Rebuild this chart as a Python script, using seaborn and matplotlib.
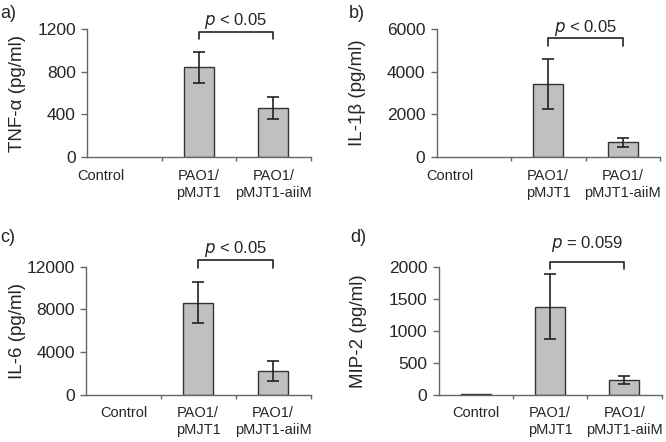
import matplotlib
matplotlib.use("Agg")
import matplotlib.pyplot as plt
import seaborn as sns
import pandas as pd
import numpy as np

sns.set_style("white")
plt.rcParams['font.family'] = ['Liberation Sans', 'DejaVu Sans']

# ---- data ----
groups = ["Control", "PAO1/\npMJT1", "PAO1/\npMJT1-aiiM"]
panel_letters = ["a)", "b)", "c)", "d)"]
ylabels = ["TNF-α (pg/ml)", "IL-1β (pg/ml)", "IL-6 (pg/ml)", "MIP-2 (pg/ml)"]
tnf_mean = [0, 840, 460]
tnf_err = [0, 145, 100]
il1b_mean = [0, 3420, 680]
il1b_err = [0, 1160, 220]
il6_mean = [0, 8600, 2200]
il6_err = [0, 1920, 940]
mip2_mean = [5, 1375, 235]
mip2_err = [0, 510, 60]
p_labels = ["$p$ < 0.05", "$p$ < 0.05", "$p$ < 0.05", "$p$ = 0.059"]
ymax = [1200, 6000, 12000, 2000]
ystep = [400, 2000, 4000, 500]

means = [tnf_mean, il1b_mean, il6_mean, mip2_mean]
errs = [tnf_err, il1b_err, il6_err, mip2_err]

# ---- layout (pixels) ----
W, H = 666, 442
fig = plt.figure(figsize=(W / 100, H / 100), dpi=100)
boxes = [(87, 310.5, 29, 157), (436.5, 660, 29, 157),
         (86, 310.5, 266.7, 394.7), (438.5, 661.5, 266.7, 394.7)]
ylab_x = [26, 366, 26, 367]
letter_pos = [(0, 13), (349, 13), (0, 237), (350, 238)]
# bracket levels (fraction of ymax): line, leg end, text baseline
brk = [(1175 / 1200, 1106 / 1200, 1237 / 1200),
       (5564 / 6000, 5203 / 6000, 5845 / 6000),
       (12600 / 12000, 11906 / 12000, 13256 / 12000),
       (2073 / 2000, 1959 / 2000, 2287 / 2000)]

spine_col = "#666666"
for i in range(4):
    l, r, t, b = boxes[i]
    ax = fig.add_axes([l / W, (H - b) / H, (r - l) / W, (b - t) / H])
    df = pd.DataFrame({"group": groups, "value": means[i]})
    sns.barplot(data=df, x="group", y="value", ax=ax, color="#c0c0c0",
                edgecolor="#333333", linewidth=1.0, width=0.4, saturation=1)
    for patch in ax.patches:
        if patch.get_height() == 0:
            patch.set_visible(False)
    m = np.asarray(means[i], dtype=float)
    e = np.asarray(errs[i], dtype=float)
    idx = np.where(e > 0)[0]
    ax.errorbar(idx, m[idx], yerr=e[idx], fmt="none",
                ecolor="#222222", elinewidth=1.2, capsize=4, capthick=1.2)
    ax.set_xlim(-0.5, 2.5)
    ax.set_ylim(0, ymax[i])
    ax.set_yticks(np.arange(0, ymax[i] + 1, ystep[i]))
    ax.set_yticklabels([str(int(v)) for v in np.arange(0, ymax[i] + 1, ystep[i])],
                       fontsize=12.5)
    ax.tick_params(axis="y", direction="out", length=4, width=1, color=spine_col,
                   pad=4, left=True)
    ax.set_xticks([0, 1, 2])
    ax.set_xticklabels(groups, fontsize=10.5, linespacing=1.25, va="top")
    ax.tick_params(axis="x", which="major", length=0, pad=9 if i < 2 else 8)
    ax.set_xticks([0.5, 1.5, 2.5], minor=True)
    ax.tick_params(axis="x", which="minor", direction="out", length=3,
                   width=1, color=spine_col, bottom=True)
    if i < 2:
        ax.get_xticklabels()[0].set_horizontalalignment("right")
    ax.set_xlabel("")
    ax.set_ylabel(ylabels[i], fontsize=13.5)
    ax.yaxis.set_label_coords((ylab_x[i] - l) / (r - l), 0.5)
    for s in ["top", "right"]:
        ax.spines[s].set_visible(False)
    for s in ["left", "bottom"]:
        ax.spines[s].set_color(spine_col)
        ax.spines[s].set_linewidth(1.0)
    yl, ye, yt = [v * ymax[i] for v in brk[i]]
    ax.plot([1, 1, 2, 2], [ye, yl, yl, ye], color="#222222", lw=1.2,
            clip_on=False)
    ax.text(1.5, yt, p_labels[i], ha="center", va="baseline", fontsize=12)
    fig.text(letter_pos[i][0] / W, 1 - letter_pos[i][1] / H, panel_letters[i],
             fontsize=13, ha="left", va="center")

fig.savefig("out.png", dpi=100, facecolor="white")
